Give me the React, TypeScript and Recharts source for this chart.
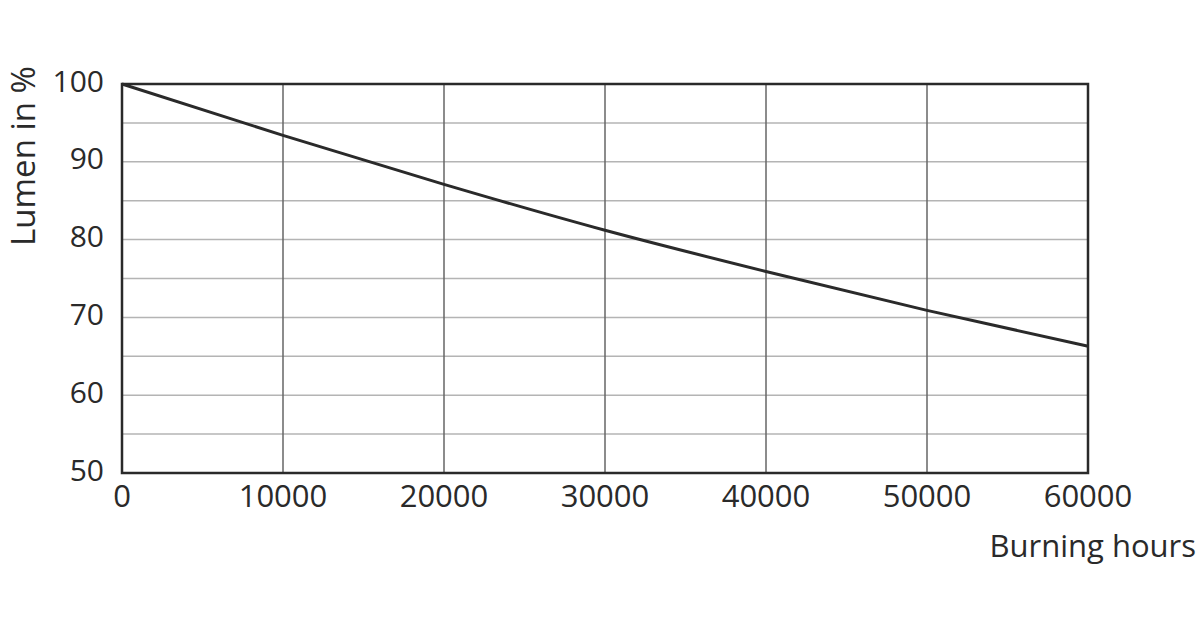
import { LineChart, Line, XAxis, YAxis, CartesianGrid, ReferenceArea } from "recharts";

// Lumen maintenance, in % at each 10000 burning hours
const hours = [0, 10000, 20000, 30000, 40000, 50000, 60000];
const lumenPct = [100, 93.4, 87.1, 81.2, 75.9, 70.9, 66.3];

const xTicks = [0, 10000, 20000, 30000, 40000, 50000, 60000];
const yTicks = [50, 55, 60, 65, 70, 75, 80, 85, 90, 95, 100];

const FONT = "'Open Sans', 'Noto Sans', sans-serif";
const INK = "#2a2a2a";

export default function App() {
  const data = hours.map((h, i) => ({ hours: h, lumen: lumenPct[i] }));

  return (
    <div style={{ position: "absolute", left: 0, top: 0, width: 1200, height: 630, background: "#fff", fontFamily: FONT }}>
      <LineChart width={1200} height={630} data={data} margin={{ top: 84, right: 112, left: 0, bottom: 0 }}>
        {/* light horizontal lines every 5 %, darker verticals every 10000 h */}
        <CartesianGrid vertical={false} stroke="#b4b4b4" strokeWidth={1.5} />
        <CartesianGrid horizontal={false} stroke="#666" strokeWidth={1.5} />
        <XAxis
          dataKey="hours"
          type="number"
          domain={[0, 60000]}
          ticks={xTicks}
          height={157}
          axisLine={false}
          tickLine={false}
          tickSize={0}
          tickMargin={12}
          tick={{ fill: INK, fontSize: 31, fontFamily: FONT }}
          label={{ value: "Burning hours", position: "insideTopRight", offset: 0, dx: 108, dy: 62, fill: INK, fontSize: 31, fontFamily: FONT }}
        />
        <YAxis
          type="number"
          domain={[50, 100]}
          ticks={yTicks}
          width={122}
          axisLine={false}
          tickLine={false}
          tickSize={0}
          tickMargin={18}
          interval={0}
          tickFormatter={(v: number) => (v % 10 === 0 ? String(v) : "")}
          tick={{ fill: INK, fontSize: 30, fontFamily: FONT, dy: -3 }}
          label={{ value: "Lumen in %", angle: -90, position: "insideTopLeft", offset: 0, dx: 12, dy: 72, fill: INK, fontSize: 33, fontFamily: FONT, textAnchor: "middle" }}
        />
        <ReferenceArea x1={0} x2={60000} y1={50} y2={100} fill="none" stroke={INK} strokeWidth={2.5} ifOverflow="visible" />
        <Line
          type="monotone"
          dataKey="lumen"
          stroke={INK}
          strokeWidth={3}
          dot={false}
          activeDot={false}
          isAnimationActive={false}
        />
      </LineChart>
    </div>
  );
}
